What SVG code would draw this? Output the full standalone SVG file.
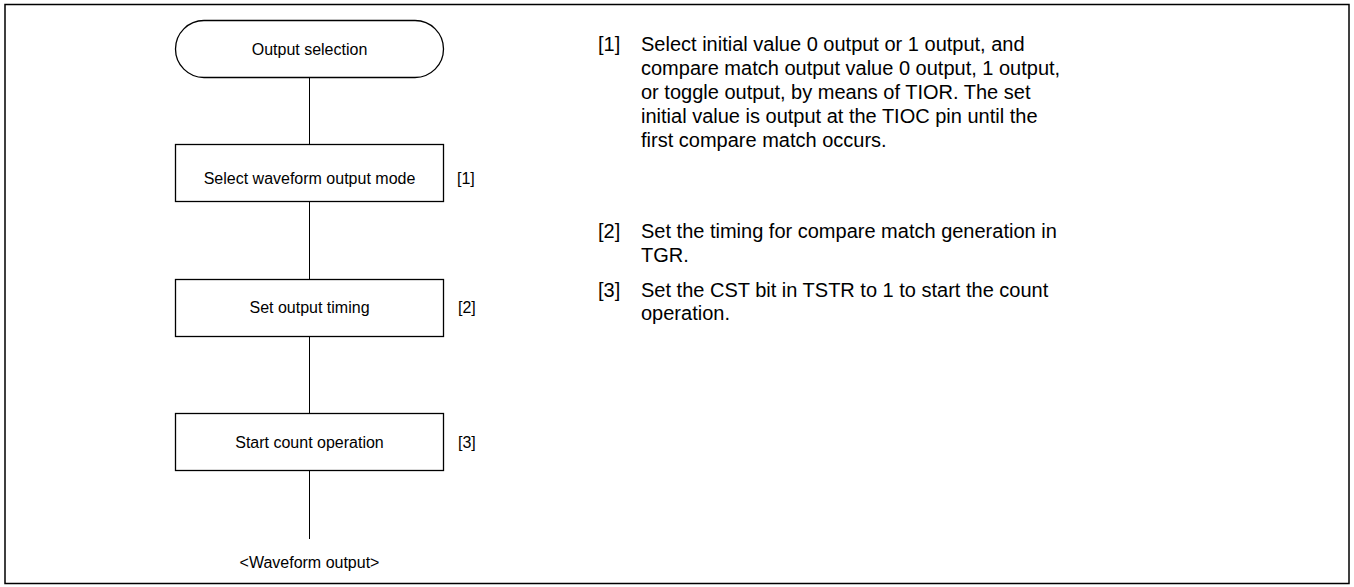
<svg xmlns="http://www.w3.org/2000/svg" width="1354" height="587" viewBox="0 0 1354 587">
<style>
text{font-family:"Liberation Sans",Arial,sans-serif;font-size:16px;fill:#000}
.c{text-anchor:middle}
.n{font-size:20px}
.shape{fill:#fff;stroke:#000;stroke-width:1.3}
.ln{stroke:#000;stroke-width:1;fill:none}
</style>
<rect x="5" y="4.5" width="1344" height="579" fill="#fff" stroke="#000" stroke-width="1.5"/>
<g id="connectors">
<line class="ln" x1="309.5" y1="78" x2="309.5" y2="144"/>
<line class="ln" x1="309.5" y1="201" x2="309.5" y2="279"/>
<line class="ln" x1="309.5" y1="336" x2="309.5" y2="413"/>
<line class="ln" x1="309.5" y1="470" x2="309.5" y2="539"/>
</g>
<g id="start">
<rect class="shape" x="175.5" y="20.5" width="268" height="57" rx="28.5"/>
<text class="c" x="309.5" y="55">Output selection</text>
</g>
<g id="step1">
<rect class="shape" x="175.5" y="144.5" width="268" height="57"/>
<text class="c" x="309.5" y="184">Select waveform output mode</text>
<text x="457" y="184">[1]</text>
</g>
<g id="step2">
<rect class="shape" x="175.5" y="279.5" width="268" height="57"/>
<text class="c" x="309.5" y="313">Set output timing</text>
<text x="458" y="313">[2]</text>
</g>
<g id="step3">
<rect class="shape" x="175.5" y="413.5" width="268" height="57"/>
<text class="c" x="309.5" y="448">Start count operation</text>
<text x="458" y="448">[3]</text>
</g>
<g id="end">
<text class="c" x="309.5" y="568">&lt;Waveform output&gt;</text>
</g>
<g id="notes" class="n">
<text class="n" x="598" y="51">[1]</text>
<text class="n" x="641" y="51">Select initial value 0 output or 1 output, and</text>
<text class="n" x="641" y="75">compare match output value 0 output, 1 output,</text>
<text class="n" x="641" y="99">or toggle output, by means of TIOR. The set</text>
<text class="n" x="641" y="123">initial value is output at the TIOC pin until the</text>
<text class="n" x="641" y="147">first compare match occurs.</text>
<text class="n" x="598" y="238">[2]</text>
<text class="n" x="641" y="238">Set the timing for compare match generation in</text>
<text class="n" x="641" y="262">TGR.</text>
<text class="n" x="598" y="297">[3]</text>
<text class="n" x="641" y="297">Set the CST bit in TSTR to 1 to start the count</text>
<text class="n" x="641" y="320">operation.</text>
</g>
</svg>
